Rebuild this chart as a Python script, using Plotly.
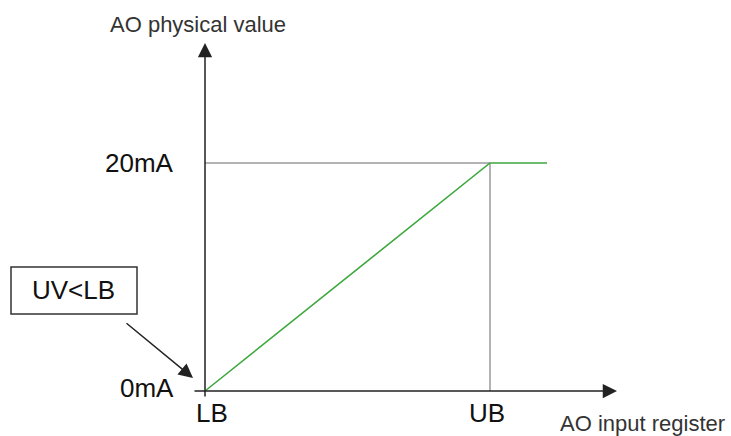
import plotly.graph_objects as go

# ---- data (normalized register axis: LB=0, UB=1) ----
x_tick_labels = ["LB", "UB"]
x_tick_vals = [0.0, 1.0]
y_tick_labels = ["0mA", "20mA"]
y_tick_vals = [0.0, 20.0]
curve_x = [0.0, 1.0, 1.2]
curve_y = [0.0, 20.0, 20.0]
x_title = "AO input register"
y_title = "AO physical value"
note_text = "UV<LB"

# ---- pixel mapping helpers (figure fills the window, no margins) ----
W, H = 731, 436
X0PX, XSCALE = 205, 285.0      # pixel of x=0, pixels per unit
Y0PX, YSCALE = 391, 11.4       # pixel of y=0, pixels per mA


def px_x(p):
    return (p - X0PX) / XSCALE


def px_y(p):
    return (Y0PX - p) / YSCALE


FONT = "Liberation Sans, Arial, sans-serif"
AXIS_COL = "#3a3a3a"
GUIDE_COL = "#9a9a9a"
GREEN = "#3fa83f"

fig = go.Figure()

# guide lines to UB / 20mA
fig.add_trace(go.Scatter(x=[x_tick_vals[0], x_tick_vals[1]], y=[y_tick_vals[1], y_tick_vals[1]],
                         mode="lines", line=dict(color=GUIDE_COL, width=1.5), hoverinfo="skip"))
fig.add_trace(go.Scatter(x=[x_tick_vals[1], x_tick_vals[1]], y=[y_tick_vals[0], y_tick_vals[1]],
                         mode="lines", line=dict(color=GUIDE_COL, width=1.5), hoverinfo="skip"))
# transfer curve
fig.add_trace(go.Scatter(x=curve_x, y=curve_y, mode="lines",
                         line=dict(color=GREEN, width=1.6), hoverinfo="skip"))

annotations = []
# axes as arrows
annotations.append(dict(x=px_x(617), y=0, ax=px_x(193), ay=0, xref="x", yref="y",
                        axref="x", ayref="y", text="", showarrow=True, arrowhead=2,
                        arrowsize=1.9, arrowwidth=1.5, arrowcolor="#222222"))
annotations.append(dict(x=0, y=px_y(43), ax=0, ay=px_y(398), xref="x", yref="y",
                        axref="x", ayref="y", text="", showarrow=True, arrowhead=2,
                        arrowsize=1.9, arrowwidth=1.5, arrowcolor="#222222"))
# note arrow
annotations.append(dict(x=px_x(193), y=px_y(378), ax=px_x(125), ay=px_y(322), xref="x", yref="y",
                        axref="x", ayref="y", text="", showarrow=True, arrowhead=2,
                        arrowsize=1.9, arrowwidth=1.5, arrowcolor="#222222"))

# tick labels
for v, t, dx in zip(x_tick_vals, x_tick_labels, [7, -3]):
    annotations.append(dict(x=v, y=0, text=t, showarrow=False, xanchor="center", yanchor="middle",
                            xshift=dx, yshift=-22, font=dict(family=FONT, size=26, color="#111111")))
for v, t, dy in zip(y_tick_vals, y_tick_labels, [3, 0]):
    annotations.append(dict(x=0, y=v, text=t, showarrow=False, xanchor="right", yanchor="middle",
                            xshift=-29, yshift=dy, font=dict(family=FONT, size=26, color="#111111")))

# axis titles
annotations.append(dict(x=px_x(558), y=px_y(423), text=x_title, showarrow=False, xanchor="left",
                        yanchor="middle", font=dict(family=FONT, size=22, color="#333333")))
annotations.append(dict(x=px_x(108), y=px_y(24), text=y_title, showarrow=False, xanchor="left",
                        yanchor="middle", font=dict(family=FONT, size=22, color="#333333")))

# note text
annotations.append(dict(x=px_x(73), y=px_y(290), text=note_text, showarrow=False, xanchor="center",
                        yanchor="middle", font=dict(family=FONT, size=26, color="#111111")))

shapes = [dict(type="rect", xref="x", yref="y", x0=px_x(11), x1=px_x(137), y0=px_y(314), y1=px_y(267),
               line=dict(color="#333333", width=1.5), fillcolor="rgba(0,0,0,0)")]

fig.update_layout(
    width=W, height=H, margin=dict(l=0, r=0, t=0, b=0),
    plot_bgcolor="white", paper_bgcolor="white", showlegend=False,
    xaxis=dict(range=[px_x(0), px_x(W)], visible=False, fixedrange=True),
    yaxis=dict(range=[px_y(H), px_y(0)], visible=False, fixedrange=True),
    annotations=annotations, shapes=shapes,
)

fig.write_html("out.html", config={"displayModeBar": False},
               post_script="document.body.style.margin='0';document.body.style.overflow='hidden';")
